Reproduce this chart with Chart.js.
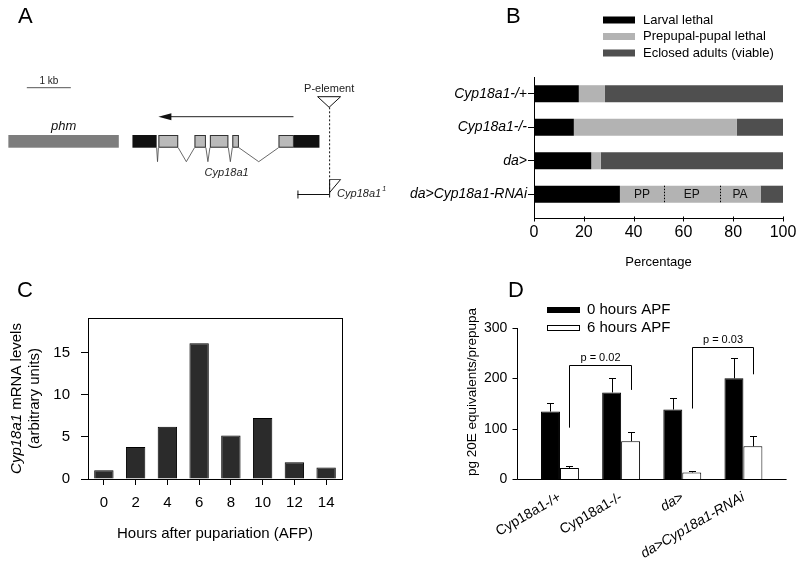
<!DOCTYPE html>
<html>
<head>
<meta charset="utf-8">
<script src="https://cdn.jsdelivr.net/npm/chart.js@4.4.0/dist/chart.umd.min.js"></script>
<style>
html, body { margin: 0; padding: 0; background: #fff; }
#wrap { position: relative; width: 800px; height: 569px; overflow: hidden; }
#wrap canvas { position: absolute; }
</style>
</head>
<body>
<div id="wrap">
  <canvas id="chartA" width="400" height="250" style="left:0;top:0"></canvas>
  <canvas id="chartB" width="400" height="280" style="left:400px;top:0"></canvas>
  <canvas id="chartC" width="400" height="289" style="left:0;top:280px"></canvas>
  <canvas id="chartD" width="400" height="289" style="left:400px;top:280px"></canvas>
</div>
<script>
// panel A - gene model (positions in kb)
var scaleBarKb = [0.61, 1.61];
var phmGene = [0.19, 2.70];
var utrBlocks = [[3.01, 3.56], [6.68, 7.26]];
var exonBlocks = [[3.60, 4.05], [4.42, 4.68], [4.77, 5.19], [5.28, 5.43], [6.33, 6.68]];
var transcriptArrowKb = [6.67, 3.60];
var pElementKb = 7.48;
var deletionKb = [6.76, 7.48];

// panel B - lethality (percent)
var genotypes = ['Cyp18a1-/+', 'Cyp18a1-/-', 'da>', 'da>Cyp18a1-RNAi'];
var larvalLethal = [18, 16, 23, 34.5];
var pupalLethal = [10.5, 65.5, 3.8, 56.5];
var eclosedAdults = [71.5, 18.5, 73.2, 9];
var pupalStages = ['PP', 'EP', 'PA'];
var pupalStageShare = [17.7, 22.3, 16.5];

// panel C - Cyp18a1 mRNA
var hoursAPF = ['0', '2', '4', '6', '8', '10', '12', '14'];
var mrnaLevels = [1.05, 3.8, 6.2, 16.1, 5.15, 7.25, 2.0, 1.35];

// panel D - 20E titers
var ecd0h = [134, 172, 138, 200];
var ecd0hErr = [17, 28, 23, 41];
var ecd6h = [22, 75, 13, 65];
var ecd6hErr = [3, 18, 2, 21];
var pLabels = ['p = 0.02', 'p = 0.03'];
var pFrom = [0, 2];
var pTo = [1, 3];
var pLeftY = [102, 140];
var pRightY = [177, 208];
var pTopY = [227, 263];

var F = '"Liberation Sans", Arial, sans-serif';
Chart.defaults.font.family = F;
Chart.defaults.color = '#000';

function seg(ctx, x1, y1, x2, y2) {
    ctx.beginPath();
    ctx.moveTo(x1, y1);
    ctx.lineTo(x2, y2);
    ctx.stroke();
}

var letterPlugin = {
    id: 'panelLetter',
    afterDraw: function (chart, args, opts) {
        if (!opts || !opts.text) return;
        var ctx = chart.ctx;
        ctx.save();
        ctx.font = '22px ' + F;
        ctx.fillStyle = '#000';
        ctx.textAlign = 'left';
        ctx.textBaseline = 'alphabetic';
        ctx.fillText(opts.text, opts.x, opts.y);
        ctx.restore();
    }
};
Chart.register(letterPlugin);

// ---------- A ----------
var rows = { scaleBar: 87.7, arrow: 116.7, geneTop: 135, geneBottom: 147.7, intron: 161.7,
             pTop: 96.7, pTip: 107.3, dashEnd: 193.3, deletion: 194.5 };

var geneModelPlugin = {
    id: 'geneModel',
    afterDraw: function (chart) {
        var ctx = chart.ctx, xs = chart.scales.x, ys = chart.scales.y;
        var X = function (v) { return xs.getPixelForValue(v); };
        var Y = function (v) { return ys.getPixelForValue(v); };
        ctx.save();
        ctx.lineWidth = 1;

        // scale bar
        ctx.strokeStyle = '#555';
        seg(ctx, X(scaleBarKb[0]), Y(rows.scaleBar), X(scaleBarKb[1]), Y(rows.scaleBar));
        ctx.fillStyle = '#222';
        ctx.font = '10px ' + F;
        ctx.textAlign = 'center';
        ctx.textBaseline = 'middle';
        ctx.fillText('1 kb', (X(scaleBarKb[0]) + X(scaleBarKb[1])) / 2, Y(rows.scaleBar) - 6);

        // phm
        var gh = Y(rows.geneBottom) - Y(rows.geneTop);
        ctx.fillStyle = '#7d7d7d';
        ctx.fillRect(X(phmGene[0]), Y(rows.geneTop), X(phmGene[1]) - X(phmGene[0]), gh);
        ctx.fillStyle = '#111';
        ctx.font = 'italic 13px ' + F;
        ctx.fillText('phm', (X(phmGene[0]) + X(phmGene[1])) / 2, Y(rows.geneTop) - 8.5);

        // introns
        var blocks = utrBlocks.concat(exonBlocks).slice().sort(function (a, b) { return a[0] - b[0]; });
        ctx.strokeStyle = '#444';
        ctx.lineWidth = 0.8;
        for (var i = 1; i < blocks.length; i++) {
            var a = blocks[i - 1][1], b = blocks[i][0];
            if (b - a < 0.01) continue;
            ctx.beginPath();
            ctx.moveTo(X(a), Y(rows.geneBottom));
            ctx.lineTo(X((a + b) / 2), Y(rows.intron));
            ctx.lineTo(X(b), Y(rows.geneBottom));
            ctx.stroke();
        }
        ctx.lineWidth = 1;

        // exons and UTRs
        exonBlocks.forEach(function (e) {
            ctx.fillStyle = '#bababa';
            ctx.fillRect(X(e[0]), Y(rows.geneTop), X(e[1]) - X(e[0]), gh);
            ctx.strokeStyle = '#333';
            ctx.strokeRect(X(e[0]) + 0.5, Y(rows.geneTop) + 0.5, X(e[1]) - X(e[0]) - 1, gh - 1);
        });
        utrBlocks.forEach(function (u) {
            ctx.fillStyle = '#111';
            ctx.fillRect(X(u[0]), Y(rows.geneTop), X(u[1]) - X(u[0]), gh);
        });
        ctx.fillStyle = '#222';
        ctx.font = 'italic 11px ' + F;
        ctx.fillText('Cyp18a1', X(5.15), Y(rows.intron) + 11);

        // transcript arrow
        var ax0 = X(transcriptArrowKb[0]), ax1 = X(transcriptArrowKb[1]), ay = Y(rows.arrow);
        ctx.strokeStyle = '#222';
        seg(ctx, ax0, ay, ax1 + 10, ay);
        ctx.fillStyle = '#111';
        ctx.beginPath();
        ctx.moveTo(ax1, ay);
        ctx.lineTo(ax1 + 13, ay - 3.5);
        ctx.lineTo(ax1 + 13, ay + 3.5);
        ctx.closePath();
        ctx.fill();

        // P-element
        var px = X(pElementKb);
        ctx.strokeStyle = '#111';
        ctx.fillStyle = '#fff';
        ctx.beginPath();
        ctx.moveTo(px - 11.5, Y(rows.pTop));
        ctx.lineTo(px + 11.5, Y(rows.pTop));
        ctx.lineTo(px, Y(rows.pTip));
        ctx.closePath();
        ctx.fill();
        ctx.stroke();
        ctx.fillStyle = '#222';
        ctx.font = '11px ' + F;
        ctx.fillText('P-element', px, Y(rows.pTop) - 7.5);

        ctx.setLineDash([2, 2]);
        seg(ctx, px + 0.5, Y(rows.pTip), px + 0.5, Y(rows.dashEnd));
        ctx.setLineDash([]);

        // Cyp18a1^1 deletion
        var dy = Y(rows.deletion);
        ctx.strokeStyle = '#555';
        seg(ctx, px + 0.5, dy - 15, px + 11.5, dy - 15);
        ctx.strokeStyle = '#111';
        seg(ctx, px + 11.5, dy - 15, px + 0.5, dy - 2);
        seg(ctx, px + 0.5, dy - 15, px + 0.5, dy + 3);
        seg(ctx, X(deletionKb[0]), dy, X(deletionKb[1]), dy);
        seg(ctx, X(deletionKb[0]) + 0.5, dy - 4, X(deletionKb[0]) + 0.5, dy + 4);
        ctx.fillStyle = '#222';
        ctx.textAlign = 'left';
        ctx.font = 'italic 11px ' + F;
        ctx.fillText('Cyp18a1', px + 8, dy - 1);
        var w = ctx.measureText('Cyp18a1').width;
        ctx.font = 'italic 7px ' + F;
        ctx.fillText('1', px + 9 + w, dy - 5);
        ctx.restore();
    }
};

new Chart(document.getElementById('chartA'), {
    type: 'scatter',
    data: { datasets: [] },
    options: {
        responsive: false,
        animation: false,
        layout: { padding: 0 },
        plugins: {
            legend: { display: false },
            tooltip: { enabled: false },
            panelLetter: { text: 'A', x: 18, y: 23 }
        },
        scales: {
            x: { type: 'linear', display: false, min: 0, max: 400 / 44 },
            y: { type: 'linear', display: false, min: 0, max: 250, reverse: true }
        }
    },
    plugins: [geneModelPlugin]
});

// ---------- B ----------
var bAxesPlugin = {
    id: 'bAxes',
    afterDraw: function (chart) {
        var ctx = chart.ctx, ca = chart.chartArea, xs = chart.scales.x;
        var axisY = Math.round(ca.bottom + 7) + 0.5;
        var lx = Math.round(ca.left) + 0.5;
        ctx.save();
        ctx.strokeStyle = '#000';
        ctx.lineWidth = 1;
        seg(ctx, lx, ca.top, lx, axisY);
        seg(ctx, lx, axisY, ca.right + 1, axisY);
        xs.ticks.forEach(function (t) {
            var p = Math.round(xs.getPixelForValue(t.value)) + 0.5;
            seg(ctx, p, axisY - 2, p, axisY + 3);
        });

        // pupal stage split of the RNAi bar
        var row = genotypes.length - 1;
        var el = chart.getDatasetMeta(1).data[row];
        var top = el.y - el.height / 2, bot = el.y + el.height / 2;
        var acc = larvalLethal[row];
        ctx.font = '12px ' + F;
        ctx.fillStyle = '#111';
        ctx.textAlign = 'center';
        ctx.textBaseline = 'middle';
        for (var i = 0; i < pupalStages.length; i++) {
            var s = acc;
            acc += pupalStageShare[i];
            ctx.fillText(pupalStages[i], xs.getPixelForValue((s + acc) / 2), el.y + 0.5);
            if (i < pupalStages.length - 1) {
                var dx = Math.round(xs.getPixelForValue(acc)) + 0.5;
                ctx.setLineDash([1.5, 1.5]);
                seg(ctx, dx, top, dx, bot);
                ctx.setLineDash([]);
            }
        }

        // legend
        var ds = chart.data.datasets;
        ctx.textAlign = 'left';
        ctx.font = '13px ' + F;
        for (var k = 0; k < ds.length; k++) {
            var ly = 20 + k * 16.5;
            ctx.fillStyle = ds[k].backgroundColor;
            ctx.fillRect(203, ly - 3.5, 32, 7);
            ctx.fillStyle = '#000';
            ctx.fillText(ds[k].label, 243, ly);
        }
        ctx.restore();
    }
};

new Chart(document.getElementById('chartB'), {
    type: 'bar',
    data: {
        labels: genotypes,
        datasets: [
            { label: 'Larval lethal', data: larvalLethal, backgroundColor: '#000000' },
            { label: 'Prepupal-pupal lethal', data: pupalLethal, backgroundColor: '#b3b3b3' },
            { label: 'Eclosed adults (viable)', data: eclosedAdults, backgroundColor: '#4f4f4f' }
        ]
    },
    options: {
        indexAxis: 'y',
        responsive: false,
        animation: false,
        layout: { padding: { top: 77, right: 17, left: 0, bottom: 0 } },
        datasets: { bar: { barPercentage: 0.51, categoryPercentage: 1 } },
        plugins: {
            legend: { display: false },
            tooltip: { enabled: false },
            panelLetter: { text: 'B', x: 106, y: 23 }
        },
        scales: {
            x: {
                stacked: true, min: 0, max: 100,
                ticks: { stepSize: 20, padding: 12, color: '#000', font: { size: 16 } },
                grid: { display: false, drawTicks: false },
                border: { display: false },
                title: { display: true, text: 'Percentage', color: '#000', font: { size: 13 }, padding: { top: 0, bottom: 10 } },
                afterFit: function (s) { s.height = 69; s.paddingLeft = 0; s.paddingRight = 0; }
            },
            y: {
                stacked: true,
                ticks: { padding: 1, color: '#000', font: { size: 14, style: 'italic' } },
                grid: { drawOnChartArea: false, offset: false, tickLength: 6, color: '#000' },
                border: { display: false },
                afterFit: function (s) { s.width = 134; }
            }
        }
    },
    plugins: [bAxesPlugin]
});

// ---------- C ----------
var cFramePlugin = {
    id: 'cFrame',
    afterDraw: function (chart) {
        var ctx = chart.ctx, ca = chart.chartArea;
        ctx.save();
        ctx.strokeStyle = '#000';
        ctx.lineWidth = 1;
        ctx.strokeRect(Math.round(ca.left) + 0.5, Math.round(ca.top) + 0.5,
            Math.round(ca.right - ca.left), Math.round(ca.bottom - ca.top));

        // y title with italic gene name
        var cy = (ca.top + ca.bottom) / 2;
        ctx.fillStyle = '#000';
        ctx.textBaseline = 'middle';
        ctx.textAlign = 'left';
        ctx.translate(17, cy);
        ctx.rotate(-Math.PI / 2);
        ctx.font = 'italic 15px ' + F;
        var w1 = ctx.measureText('Cyp18a1').width;
        ctx.font = '15px ' + F;
        var w2 = ctx.measureText(' mRNA levels').width;
        var x0 = -(w1 + w2) / 2;
        ctx.font = 'italic 15px ' + F;
        ctx.fillText('Cyp18a1', x0, 0);
        ctx.font = '15px ' + F;
        ctx.fillText(' mRNA levels', x0 + w1, 0);
        ctx.textAlign = 'center';
        ctx.fillText('(arbitrary units)', 0, 18);
        ctx.restore();
    }
};

new Chart(document.getElementById('chartC'), {
    type: 'bar',
    data: {
        labels: hoursAPF,
        datasets: [{ label: 'Cyp18a1 mRNA', data: mrnaLevels, backgroundColor: '#2b2b2b', borderColor: '#000', borderWidth: 1 }]
    },
    options: {
        responsive: false,
        animation: false,
        layout: { padding: { top: 38, right: 58, left: 0, bottom: 0 } },
        datasets: { bar: { barPercentage: 0.61, categoryPercentage: 1 } },
        plugins: {
            legend: { display: false },
            tooltip: { enabled: false },
            panelLetter: { text: 'C', x: 17, y: 17 }
        },
        scales: {
            x: {
                ticks: { padding: 9, color: '#000', font: { size: 15 } },
                grid: { drawOnChartArea: false, offset: false, tickLength: 6, color: '#000' },
                border: { display: false },
                title: { display: true, text: 'Hours after pupariation (AFP)', color: '#000', font: { size: 15 }, padding: { top: 0, bottom: 26 } },
                afterFit: function (s) { s.height = 90; }
            },
            y: {
                min: 0, max: 19.1,
                ticks: { stepSize: 5, includeBounds: false, padding: 11, color: '#000', font: { size: 15 } },
                grid: { drawOnChartArea: false, tickLength: 7, color: '#000' },
                border: { display: false },
                afterFit: function (s) { s.width = 88; }
            }
        }
    },
    plugins: [cFramePlugin]
});

// ---------- D ----------
var axisOverhang = 12.6;
var dExtrasPlugin = {
    id: 'dExtras',
    afterDatasetsDraw: function (chart) {
        var ctx = chart.ctx, ys = chart.scales.y;
        var errs = [ecd0hErr, ecd6hErr];
        ctx.save();
        ctx.strokeStyle = '#000';
        ctx.lineWidth = 1;
        for (var d = 0; d < 2; d++) {
            var meta = chart.getDatasetMeta(d);
            var vals = chart.data.datasets[d].data;
            meta.data.forEach(function (el, i) {
                var x = Math.round(el.x) + 0.5;
                var ye = Math.round(ys.getPixelForValue(vals[i] + errs[d][i])) + 0.5;
                seg(ctx, x, el.y, x, ye);
                seg(ctx, x - 3.5, ye, x + 3.5, ye);
            });
        }
        ctx.restore();
    },
    afterDraw: function (chart) {
        var ctx = chart.ctx, ca = chart.chartArea, ys = chart.scales.y;
        ctx.save();
        ctx.strokeStyle = '#000';
        ctx.lineWidth = 1;
        var ax = Math.round(ca.left - axisOverhang) + 0.5;
        var y0 = Math.round(ys.getPixelForValue(0)) + 0.5;
        var yTop = ys.getPixelForValue(ys.max);
        seg(ctx, ax, yTop, ax, y0);
        seg(ctx, ax, y0, ca.right + axisOverhang, y0);
        ys.ticks.forEach(function (t) {
            var p = Math.round(ys.getPixelForValue(t.value)) + 0.5;
            seg(ctx, ax - 5, p, ax, p);
        });

        // significance brackets
        var m6 = chart.getDatasetMeta(1);
        ctx.fillStyle = '#000';
        ctx.font = '11px ' + F;
        ctx.textAlign = 'center';
        ctx.textBaseline = 'middle';
        for (var k = 0; k < pLabels.length; k++) {
            var xl = Math.round(m6.data[pFrom[k]].x) + 0.5;
            var xr = Math.round(m6.data[pTo[k]].x) + 0.5;
            var yt = Math.round(ys.getPixelForValue(pTopY[k])) + 0.5;
            ctx.beginPath();
            ctx.moveTo(xl, ys.getPixelForValue(pLeftY[k]));
            ctx.lineTo(xl, yt);
            ctx.lineTo(xr, yt);
            ctx.lineTo(xr, ys.getPixelForValue(pRightY[k]));
            ctx.stroke();
            ctx.fillText(pLabels[k], (xl + xr) / 2, yt - 8);
        }

        // y title
        ctx.save();
        ctx.translate(72, 112);
        ctx.rotate(-Math.PI / 2);
        ctx.font = '13.5px ' + F;
        ctx.fillText('pg 20E equivalents/prepupa', 0, 0);
        ctx.restore();

        // legend
        var ds = chart.data.datasets;
        ctx.textAlign = 'left';
        ctx.font = '15px ' + F;
        var ly = [30, 48];
        for (var i = 0; i < ds.length; i++) {
            ctx.fillStyle = ds[i].backgroundColor;
            ctx.fillRect(147, ly[i] - 3, 33, 6);
            ctx.strokeRect(147.5, ly[i] - 2.5, 32, 5);
            ctx.fillStyle = '#000';
            ctx.fillText(ds[i].label, 187, ly[i]);
        }
        ctx.restore();
    }
};

new Chart(document.getElementById('chartD'), {
    type: 'bar',
    data: {
        labels: genotypes,
        datasets: [
            { label: '0 hours APF', data: ecd0h, backgroundColor: '#000000', borderColor: '#000', borderWidth: 1 },
            { label: '6 hours APF', data: ecd6h, backgroundColor: '#ffffff', borderColor: '#000', borderWidth: 1 }
        ]
    },
    options: {
        responsive: false,
        animation: false,
        layout: { padding: { top: 48, right: 26, left: 0, bottom: 0 } },
        datasets: { bar: { barPercentage: 1, categoryPercentage: 0.62 } },
        plugins: {
            legend: { display: false },
            tooltip: { enabled: false },
            panelLetter: { text: 'D', x: 108, y: 17 }
        },
        scales: {
            x: {
                ticks: {
                    minRotation: 30, maxRotation: 30, padding: 10, color: '#000',
                    font: function (c) { return { size: 14, style: c.index >= 2 ? 'italic' : 'normal' }; }
                },
                grid: { display: false, drawTicks: false },
                border: { display: false },
                afterFit: function (s) { s.height = 90; s.paddingLeft = 0; s.paddingRight = 0; }
            },
            y: {
                min: 0, max: 300,
                ticks: { stepSize: 100, padding: 22, color: '#000', font: { size: 14 } },
                grid: { display: false, drawTicks: false },
                border: { display: false },
                afterFit: function (s) { s.width = 129.4; }
            }
        }
    },
    plugins: [dExtrasPlugin]
});
</script>
</body>
</html>
